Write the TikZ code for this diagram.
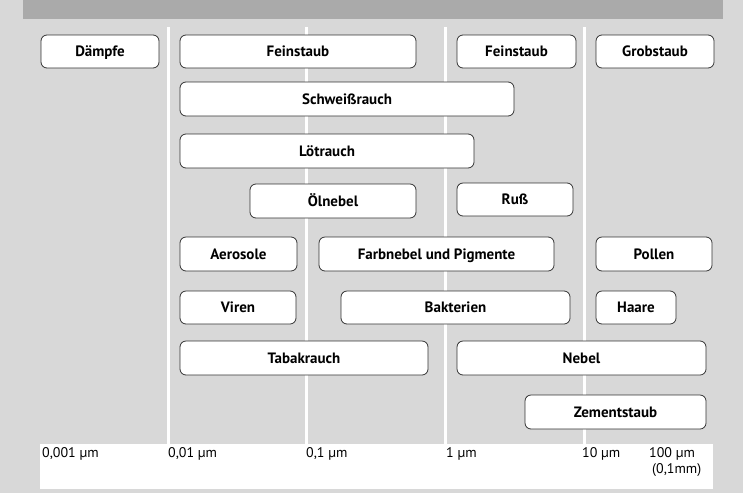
\documentclass[tikz,border=0pt]{standalone}
\usepackage{fontspec}
\setmainfont{PT Sans}
\usetikzlibrary{positioning}
\definecolor{bggray}{RGB}{216,216,216}
\definecolor{bargray}{RGB}{170,170,170}
\tikzset{
  sizebox/.style={draw=black!80, line width=0.8pt, fill=white, rounded corners=6pt,
    font=\fontsize{15}{17}\selectfont\bfseries, text height=10pt, text depth=0pt,
    minimum height=33pt, inner sep=0pt},
  scalelabel/.style={font=\fontsize{14}{15}\selectfont, anchor=north west, inner sep=0pt, align=left}
}
\begin{document}
\begin{tikzpicture}[x=1pt,y=-1pt]
  \useasboundingbox (0,0) rectangle (743,493);
  \fill[bggray] (0,0) rectangle (743,493);
  \fill[bargray] (23,0) rectangle (723,19);
  \foreach \lx in {168,306,445,584}
    \draw[white, line width=3pt] (\lx,27) -- (\lx,444);
  \fill[white] (40,444) rectangle (713,489);
  % boxes: left/right/top/bottom/name/text
  \foreach \l/\r/\t/\b/\n/\txt in {
      41/159/35/68/daempfe/Dämpfe, 180/416/35/68/feinA/Feinstaub,
      457/576/35/68/feinB/Feinstaub, 596/714/35/68/grob/Grobstaub,
      180/514/82/116/schweiss/Schweißrauch, 180/474/134/168/loet/Lötrauch,
      250/416/184/218/oel/Ölnebel, 457/573/183/216/russ/Ruß,
      180/297/237/271/aero/Aerosole, 319/554/237/271/farb/Farbnebel und Pigmente,
      596/712/237/271/pollen/Pollen, 180/296/291/324/viren/Viren,
      341/570/291/324/bakt/Bakterien, 596/676/291/324/haare/Haare,
      180/428/341/375/tabak/Tabakrauch, 457/706/341/375/nebel/Nebel,
      525/706/395/429/zement/Zementstaub}
    \node[sizebox, minimum width={(\r-\l)*1pt}, minimum height={(\b-\t)*1pt}]
      (\n) at ({(\l+\r)/2},{(\t+\b)/2}) {\txt};
  % scale
  \node[scalelabel] (s1) at (42,447) {0,001 µm};
  \node[scalelabel] (s2) at (168,447) {0,01 µm};
  \node[scalelabel] (s3) at (306,447) {0,1 µm};
  \node[scalelabel] (s4) at (446,447) {1 µm};
  \node[scalelabel] (s5) at (582,447) {10 µm};
  \node[scalelabel] (s6) at (649,447) {100 µm\\[1pt]\hspace*{3pt}(0,1mm)};
\end{tikzpicture}
\end{document}
